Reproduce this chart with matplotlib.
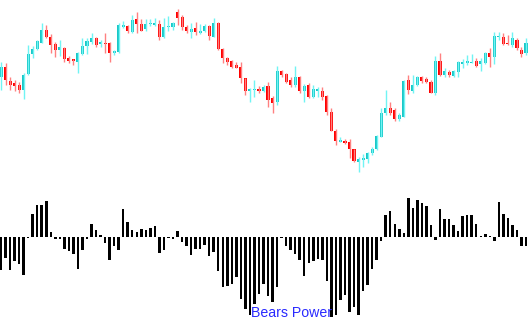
import matplotlib
matplotlib.use("Agg")
import matplotlib.pyplot as plt
import numpy as np

# Price candles (arbitrary price units)
opens = [103,113,99,97,95,90,106,126,131,137,150,143,136,130,132,122,121,118,126,134,
         138,142,136,137,137,127,128,153,154,148,161,156,151,156,155,156,143,153,153,168,
         163,153,148,152,147,149,154,143,157,131,122,119,115,113,102,89,90,91,89,94,
         82,78,109,106,100,95,103,89,95,83,89,89,84,68,49,38,39,38,31,18,
         20,21,27,31,43,67,72,70,61,63,100,89,95,103,101,98,87,119,105,108,
         104,108,116,117,117,119,116,117,127,123,143,143,137,135,140,130,127]
highs = [118,117,103,100,98,107,135,134,140,157,155,146,138,140,133,124,121,128,142,142,
         147,143,140,147,138,130,157,159,155,165,168,161,161,161,162,160,162,164,158,171,
         165,155,157,158,156,156,155,162,158,132,123,120,118,118,102,92,100,94,95,98,
         84,114,110,107,103,114,104,96,97,95,93,93,85,72,51,43,41,41,31,23,
         26,28,33,45,72,90,78,72,67,100,105,105,104,104,103,100,124,127,112,110,
         110,119,121,125,126,122,122,128,132,148,148,147,145,148,142,133,142]
lows = [90,95,90,89,87,81,105,122,130,137,142,127,123,124,118,117,115,107,125,126,
        136,133,133,127,118,125,127,152,147,147,147,149,149,154,154,140,142,149,150,155,
        150,147,142,145,146,148,140,143,130,117,115,112,112,97,85,78,83,87,88,73,
        67,75,103,97,93,93,87,78,82,82,83,80,65,49,35,38,36,22,18,8,
        13,17,25,30,43,65,65,59,59,63,86,87,94,97,97,87,85,104,103,103,
        103,103,112,115,117,113,109,116,113,116,140,135,135,133,130,123,125]
closes = [113,100,95,94,90,105,126,131,139,150,143,135,130,133,121,119,119,127,134,139,
          142,135,138,136,127,129,155,155,149,160,156,149,156,157,157,143,153,154,157,162,
          153,149,151,148,149,154,144,157,131,122,118,113,112,102,89,91,91,89,93,80,
          77,109,105,98,95,103,89,94,83,91,91,83,68,49,39,40,37,31,19,21,
          22,27,31,44,67,72,67,61,65,99,90,95,103,99,98,87,119,105,109,105,
          109,118,118,119,118,114,119,127,123,144,144,136,136,142,132,126,137]

# Bears Power indicator values
bears = [-33,-21,-33,-24,-27,-38,-1,23,32,32,36,5,-2,-2,-12,-14,-17,-32,-13,-2,
         13,7,2,-6,-23,-9,-13,28,15,7,5,8,7,9,11,-16,-13,-1,-2,6,
         -5,-9,-18,-12,-12,-8,-19,-15,-34,-50,-49,-47,-40,-62,-72,-78,-67,-57,-47,-59,
         -65,-50,-0.5,-9,-13,-17,-23,-39,-26,-24,-22,-23,-44,-80,-78,-63,-58,-75,-70,-78,
         -54,-48,-32,-23,-4,22,26,13,8,4,39,29,37,34,31,12,-3,28,18,18,
         12,6,21,22,22,13,0.5,3,1,-4,35,23,19,12,7,-9,-9]

label = "Bears Power"

W, H = 529, 334
fig = plt.figure(figsize=(W/100, H/100), dpi=100)
fig.patch.set_facecolor("white")

n = len(opens)
x = np.arange(n)
step = 4.526
xlim = (-1/step, (W-1)/step)

# top price axes: pixel rows 0..180
ax1 = fig.add_axes([0, 154/H, 1, 180/H])
ax1.set_xlim(*xlim)
ax1.set_ylim(0, 180)
ax1.axis("off")

o = np.array(opens, float); c = np.array(closes, float)
hi = np.array(highs, float); lo = np.array(lows, float)
up = c >= o
body_col = np.where(up, "#19c8c8", "#ff0000")
wick_col = np.where(up, "#70f4f4", "#ff8080")
ax1.vlines(x, lo, hi, colors=wick_col, linewidth=1.0)
bottom = np.minimum(o, c)
height = np.maximum(np.abs(c - o), 1.2)
ax1.bar(x, height, bottom=bottom, width=0.68, color=body_col, linewidth=0)

# bottom indicator axes: pixel rows 180..334, zero at row 237
ax2 = fig.add_axes([0, 0, 1, 154/H])
ax2.set_xlim(*xlim)
ax2.set_ylim(-97, 57)
ax2.axis("off")
b = np.array(bears, float)
bh = np.where(np.abs(b) < 1, np.sign(b + 1e-9) * 1.0, b)
ax2.bar(x, bh, width=0.55, color="black", linewidth=0)

fig.text(251/W, 1 - 317/H, label, color="#2a2aff", fontsize=10.2,
         family=["Liberation Sans", "DejaVu Sans"], va="baseline", ha="left")

fig.savefig("out.png", dpi=100, facecolor="white")
